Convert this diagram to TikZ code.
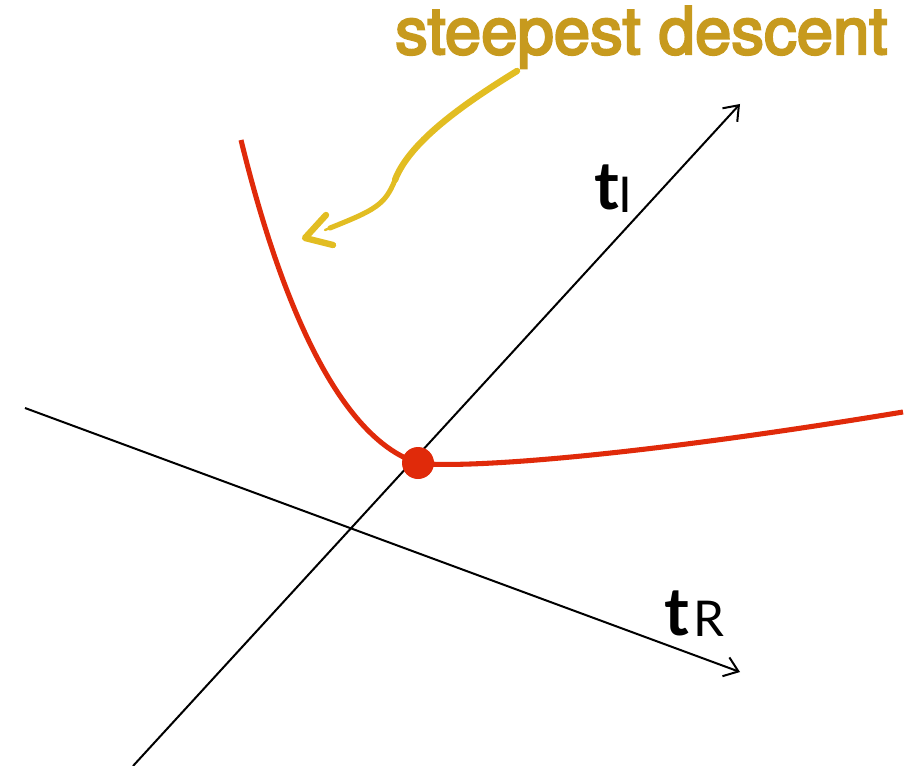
\documentclass[tikz,border=0pt]{standalone}
\usepackage{fontspec}
\setmainfont{TeX Gyre Heros}
\newfontfamily\titlefont[FakeBold=3.5]{TeX Gyre Heros}
\newfontfamily\labfont{Lato}
\usetikzlibrary{arrows.meta}
\definecolor{titlegold}{HTML}{C79A1E}
\definecolor{arrowgold}{HTML}{E2BD22}
\definecolor{curvered}{HTML}{E02A0A}
\tikzset{
  axis/.style={line width=1.5pt, -{Straight Barb[length=10pt,width=15pt,line width=1.5pt]}},
  redcurve/.style={curvered, line width=3.8pt},
  axislabel/.style={font=\labfont\bfseries\fontsize{50}{50}\selectfont, inner sep=0pt},
  sublabel/.style={font=\labfont\fontsize{37}{37}\selectfont, inner sep=0pt},
  goldstroke/.style={arrowgold, line cap=round, line join=round},
}
\begin{document}
\begin{tikzpicture}[x=0.75pt,y=-0.75pt]
\useasboundingbox (0,0) rectangle (916,766);
% axes
\coordinate (iS) at (133,766);
\coordinate (iE) at (740,104);
\coordinate (rS) at (25,408);
\coordinate (rE) at (740,672);
\draw[axis] (iS) -- (iE);
\draw[axis] (rS) -- (rE);
\node[axislabel, anchor=base west] (tI) at (594,210) {t};
\node[sublabel, anchor=base west] (sI) at (618,213) {I};
\node[axislabel, anchor=base west] (tR) at (664,635) {t};
\node[sublabel, anchor=base west] (sR) at (693,636) {R};
% red curve
\coordinate (cS) at (241,140);
\coordinate (cE) at (903,412);
\node[circle, fill=curvered, minimum size=24pt, inner sep=0pt] (dot) at (418,463) {};
\draw[redcurve] (cS) .. controls (285,320) and (345,440) .. (dot.center);
\draw[redcurve] (dot.center) .. controls (450,468) and (600,462) .. (cE);
% title
\node[font=\titlefont\fontsize{49}{49}\selectfont, text=titlegold, anchor=base west, inner sep=0pt] (title) at (395,54) {steepest descent};
% yellow hand-drawn arrow
\coordinate (yA) at (517,71);
\coordinate (yC) at (330,228);
\coordinate (yH) at (305,238);
\draw[goldstroke, line width=4.8pt] (yA) .. controls (470,100) and (410,140) .. (395,180);
\draw[goldstroke, line width=3.8pt] (395,180) .. controls (385,205) and (375,210) .. (yC);
\draw[goldstroke, line width=1.8pt] (yC) -- (325,230);
\draw[goldstroke, line width=4.8pt] (326,215) -- (yH) -- (333,245);
\end{tikzpicture}
\end{document}
